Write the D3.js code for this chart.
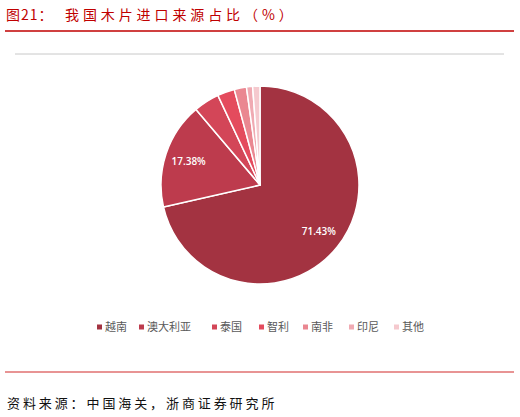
<!DOCTYPE html>
<html>
<head>
<meta charset="utf-8">
<script src="https://cdn.jsdelivr.net/npm/d3@7"></script>
<style>
  body { margin: 0; background: #fff; }
  svg { display: block; }
</style>
</head>
<body>
<svg id="chart" width="520" height="417"></svg>
<script>
// data
const countries = ["越南", "澳大利亚", "泰国", "智利", "南非", "印尼", "其他"]
const shares = [71.43, 17.38, 4.2, 2.8, 2.0, 1.0, 1.19]
const labelText = ["71.43%", "17.38%", "", "", "", "", ""]
const colors = ["#A33341", "#BD3B4D", "#D34658", "#E44B5D", "#EA8791", "#F0AAB2", "#F5C9CE"]

const svg = d3.select("#chart")
const cjk = "'Noto Sans CJK SC', sans-serif"

// title
svg.append("text")
  .attr("x", 6).attr("y", 20)
  .attr("font-family", cjk).attr("font-size", 14)
  .attr("fill", "#C00000")
  .attr("letter-spacing", "1px")
  .text("图21：")
svg.append("text")
  .attr("x", 65).attr("y", 20)
  .attr("font-family", cjk).attr("font-size", 14)
  .attr("fill", "#C00000")
  .attr("letter-spacing", "3.9px")
  .text("我国木片进口来源占比（%）")

svg.append("line")
  .attr("x1", 5).attr("x2", 514).attr("y1", 31).attr("y2", 31)
  .attr("stroke", "#C00000").attr("stroke-width", 1.3)

// chart frame top
svg.append("line")
  .attr("x1", 15).attr("x2", 504).attr("y1", 54).attr("y2", 54)
  .attr("stroke", "#C8C8C8").attr("stroke-width", 1)

// pie
const radius = 99
const g = svg.append("g").attr("transform", "translate(260,185)")

const pie = d3.pie().sort(null).value(d => d)
const arcs = pie(shares)
const arc = d3.arc().innerRadius(0).outerRadius(radius)
const labelArc = d3.arc().innerRadius(radius * 0.76).outerRadius(radius * 0.76)

g.selectAll("path.slice")
  .data(arcs)
  .enter().append("path")
  .attr("class", "slice")
  .attr("d", arc)
  .attr("fill", (d, i) => colors[i])
  .attr("stroke", "#fff")
  .attr("stroke-width", 1.5)
  .attr("stroke-linejoin", "round")

g.selectAll("text.lbl")
  .data(arcs)
  .enter().append("text")
  .attr("class", "lbl")
  .attr("transform", d => "translate(" + labelArc.centroid(d) + ")")
  .attr("text-anchor", "middle")
  .attr("dy", "0.35em")
  .attr("font-family", "'Open Sans', sans-serif")
  .attr("font-size", 10)
  .attr("font-weight", 600)
  .attr("fill", "#fff")
  .text((d, i) => labelText[i])

// legend
const legendPos = [97, 139, 212, 259, 303, 349, 394]
const lg = svg.append("g").attr("class", "legend")
const items = lg.selectAll("g")
  .data(countries)
  .enter().append("g")
  .attr("transform", (d, i) => "translate(" + legendPos[i] + ",327)")
items.append("rect")
  .attr("x", 0).attr("y", -2.5)
  .attr("width", 5).attr("height", 5)
  .attr("fill", (d, i) => colors[i])
items.append("text")
  .attr("x", 8).attr("dy", "0.36em")
  .attr("font-family", cjk).attr("font-size", 11)
  .attr("fill", "#595959")
  .text(d => d)

// bottom rule and source
svg.append("line")
  .attr("x1", 5).attr("x2", 514).attr("y1", 372).attr("y2", 372)
  .attr("stroke", "#E07070").attr("stroke-width", 1.3)

svg.append("text")
  .attr("x", 7).attr("y", 408)
  .attr("font-family", cjk).attr("font-size", 13)
  .attr("fill", "#111")
  .attr("letter-spacing", "2.9px")
  .text("资料来源：中国海关，浙商证券研究所")
</script>
</body>
</html>
